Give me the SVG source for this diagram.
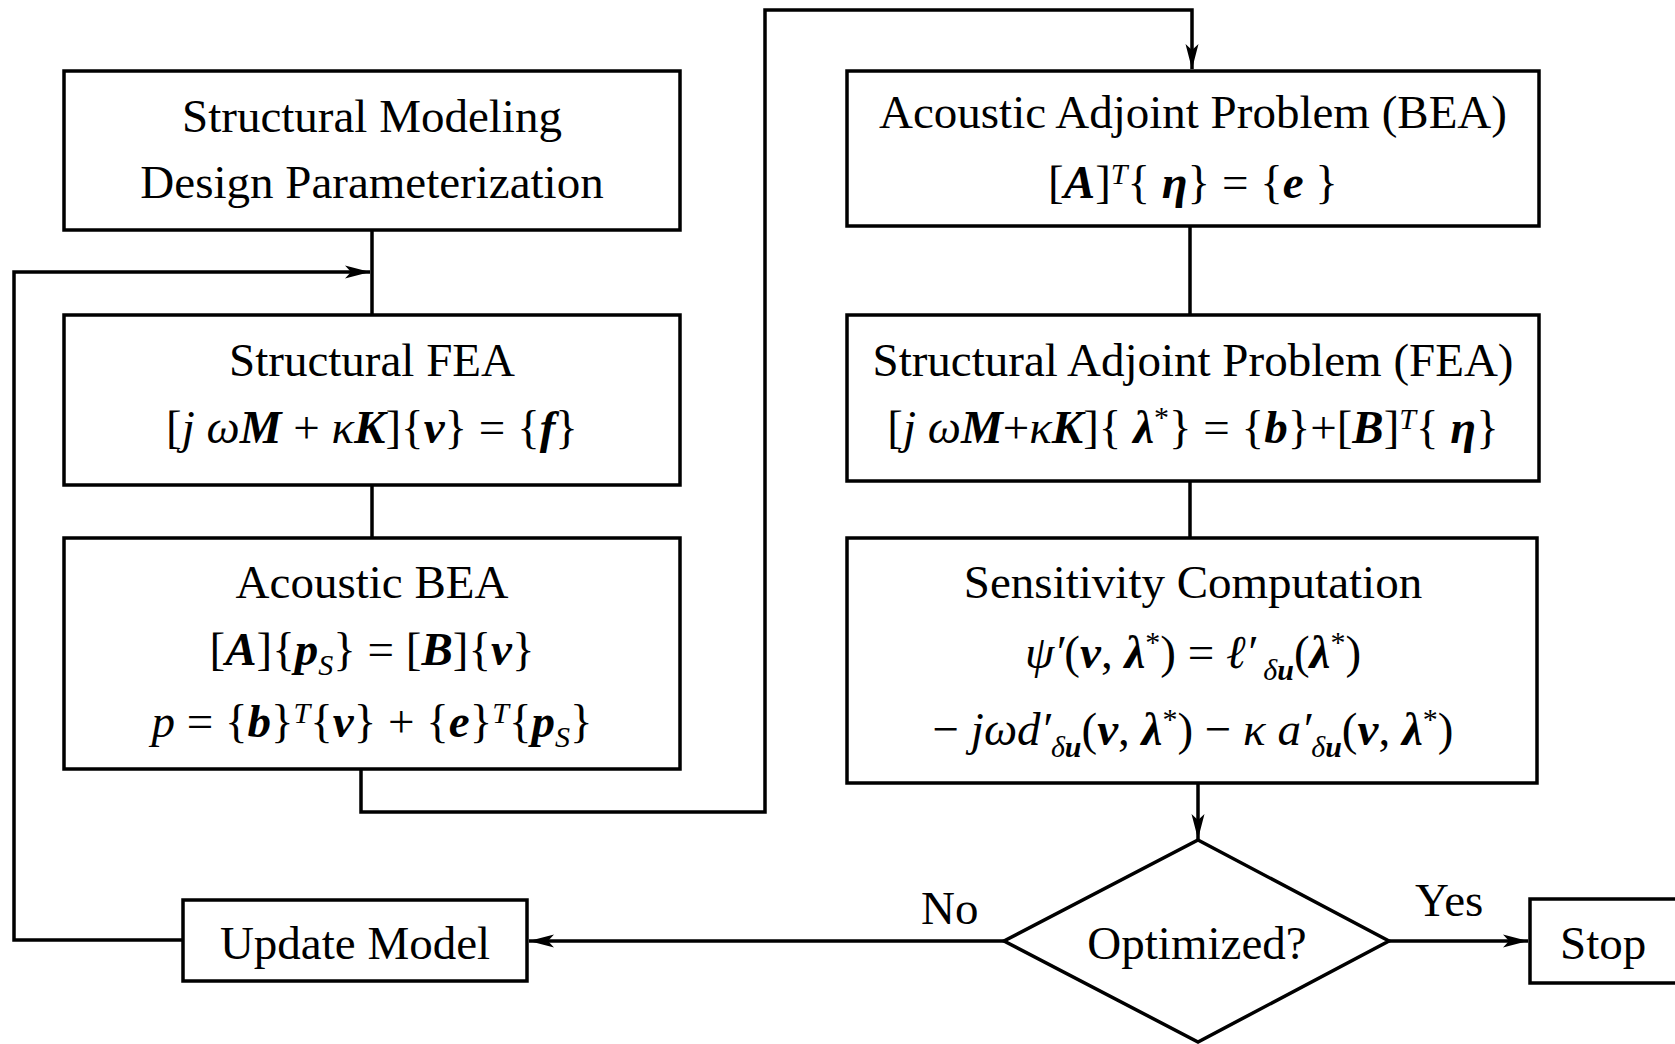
<svg xmlns="http://www.w3.org/2000/svg" width="1675" height="1044" viewBox="0 0 1675 1044">
<style>
.box{fill:#fff;stroke:#000;stroke-width:3.5}
.ln{fill:none;stroke:#000;stroke-width:3.5}
text{font-family:"Liberation Serif","Times New Roman",serif;font-size:47px;fill:#000}
.c{text-anchor:middle}
.i{font-style:italic}
.bi{font-style:italic;font-weight:bold}
.sub{font-size:30px}
.sup{font-size:30px}
</style>
<defs>
<marker id="ah" markerUnits="userSpaceOnUse" markerWidth="30" markerHeight="16" viewBox="-26 -8 28 16" refX="0" refY="0" orient="auto">
<path d="M0,0 L-25,-6.5 L-19,0 L-25,6.5 Z" fill="#000"/>
</marker>
</defs>
<rect width="1675" height="1044" fill="#fff"/>
<g id="connectors">
<path class="ln" d="M372,230 V315"/>
<path class="ln" d="M372,485 V538"/>
<path class="ln" d="M361,770 V812 H765 V10 H1192 V69" marker-end="url(#ah)"/>
<path class="ln" d="M1190,226 V315"/>
<path class="ln" d="M1190,481 V538"/>
<path class="ln" d="M1198,783 V839" marker-end="url(#ah)"/>
<path class="ln" d="M1004,941 H529" marker-end="url(#ah)"/>
<path class="ln" d="M183,940 H14 V272 H370" marker-end="url(#ah)"/>
<path class="ln" d="M1389,941 H1528" marker-end="url(#ah)"/>
</g>
<g id="n-modeling">
<rect class="box" x="64" y="71" width="616" height="159"/>
<text class="c" x="372" y="132">Structural Modeling</text>
<text class="c" x="372" y="198">Design Parameterization</text>
</g>
<g id="n-fea">
<rect class="box" x="64" y="315" width="616" height="170"/>
<text class="c" x="372" y="376">Structural FEA</text>
<text class="c" x="372" y="443">[<tspan class="i">j ω</tspan><tspan class="bi">M</tspan> + <tspan class="i">κ</tspan><tspan class="bi">K</tspan>]{<tspan class="bi">v</tspan>} = {<tspan class="bi">f</tspan>}</text>
</g>
<g id="n-bea">
<rect class="box" x="64" y="538" width="616" height="231"/>
<text class="c" x="372" y="598">Acoustic BEA</text>
<text class="c" x="372" y="665">[<tspan class="bi">A</tspan>]{<tspan class="bi">p</tspan><tspan class="i sub" dy="10">S</tspan><tspan dy="-10">} = [</tspan><tspan class="bi">B</tspan>]{<tspan class="bi">v</tspan>}</text>
<text class="c" x="372" y="737"><tspan class="i">p</tspan> = {<tspan class="bi">b</tspan>}<tspan class="i sup" dy="-14">T</tspan><tspan dy="14">{</tspan><tspan class="bi">v</tspan>} + {<tspan class="bi">e</tspan>}<tspan class="i sup" dy="-14">T</tspan><tspan dy="14">{</tspan><tspan class="bi">p</tspan><tspan class="i sub" dy="10">S</tspan><tspan dy="-10">}</tspan></text>
</g>
<g id="n-acoustic-adjoint">
<rect class="box" x="847" y="71" width="692" height="155"/>
<text class="c" x="1193" y="128">Acoustic Adjoint Problem (BEA)</text>
<text class="c" x="1193" y="198">[<tspan class="bi">A</tspan>]<tspan class="i sup" dy="-14">T</tspan><tspan dy="14">{ </tspan><tspan class="bi">η</tspan>} = {<tspan class="bi">e</tspan> }</text>
</g>
<g id="n-structural-adjoint">
<rect class="box" x="847" y="315" width="692" height="166"/>
<text class="c" x="1193" y="376">Structural Adjoint Problem (FEA)</text>
<text class="c" x="1193" y="443">[<tspan class="i">j ω</tspan><tspan class="bi">M</tspan>+<tspan class="i">κ</tspan><tspan class="bi">K</tspan>]{ <tspan class="bi">λ</tspan><tspan class="sup" dy="-16">*</tspan><tspan dy="16">} = {</tspan><tspan class="bi">b</tspan>}+[<tspan class="bi">B</tspan>]<tspan class="i sup" dy="-14">T</tspan><tspan dy="14">{ </tspan><tspan class="bi">η</tspan>}</text>
</g>
<g id="n-sensitivity">
<rect class="box" x="847" y="538" width="690" height="245"/>
<text class="c" x="1193" y="668"><tspan class="i">ψ′</tspan>(<tspan class="bi">v</tspan>, <tspan class="bi">λ</tspan><tspan class="sup" dy="-16">*</tspan><tspan dy="16">) = </tspan><tspan class="i">ℓ′</tspan><tspan class="i sub" dy="12"> δ</tspan><tspan class="bi sub">u</tspan><tspan dy="-12">(</tspan><tspan class="bi">λ</tspan><tspan class="sup" dy="-16">*</tspan><tspan dy="16">)</tspan></text>
<text class="c" x="1193" y="598">Sensitivity Computation</text>
<text class="c" x="1193" y="745">− <tspan class="i">jωd′</tspan><tspan class="i sub" dy="12">δ</tspan><tspan class="bi sub">u</tspan><tspan dy="-12">(</tspan><tspan class="bi">v</tspan>, <tspan class="bi">λ</tspan><tspan class="sup" dy="-16">*</tspan><tspan dy="16">) − </tspan><tspan class="i">κ a′</tspan><tspan class="i sub" dy="12">δ</tspan><tspan class="bi sub">u</tspan><tspan dy="-12">(</tspan><tspan class="bi">v</tspan>, <tspan class="bi">λ</tspan><tspan class="sup" dy="-16">*</tspan><tspan dy="16">)</tspan></text>
</g>
<g id="n-decision">
<polygon class="box" points="1198,840 1389,941 1198,1042 1004,941"/>
<text class="c" x="1197" y="959">Optimized?</text>
</g>
<g id="n-update">
<rect class="box" x="183" y="900" width="344" height="81"/>
<text class="c" x="355" y="959">Update Model</text>
</g>
<g id="n-stop">
<rect class="box" x="1530" y="899" width="160" height="84"/>
<text x="1560" y="959">Stop</text>
</g>
<g id="labels">
<text x="921" y="924">No</text>
<text x="1415" y="916">Yes</text>
</g>
</svg>
